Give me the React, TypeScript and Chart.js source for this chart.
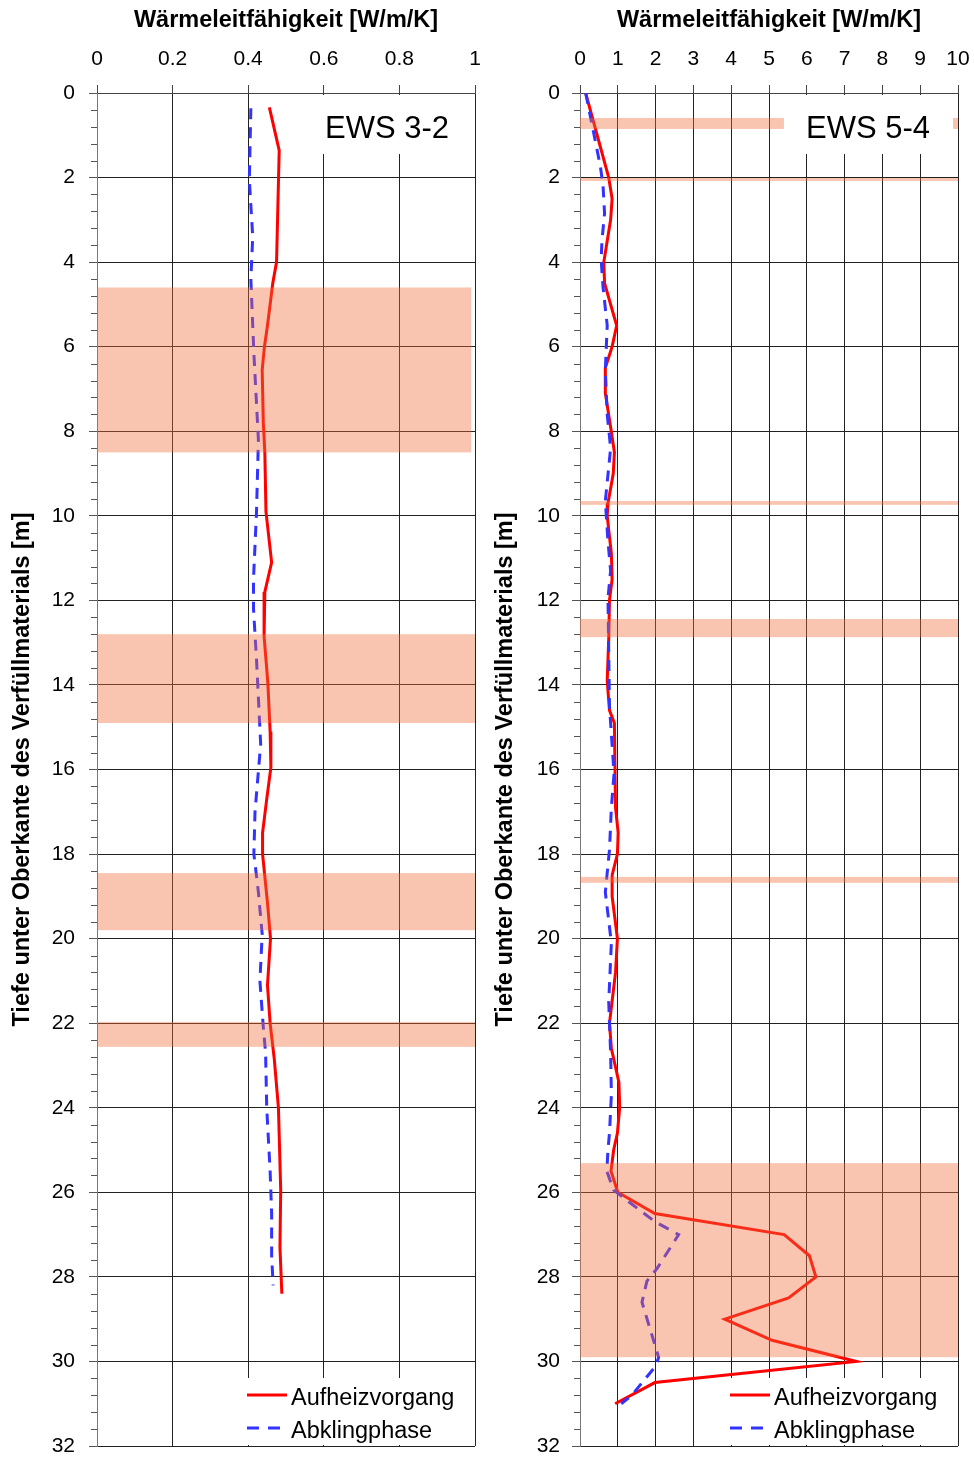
import React, { useEffect, useRef } from 'react';
import { Chart, registerables } from 'chart.js';

Chart.register(...registerables);
Chart.defaults.font.family = '"Liberation Sans", Arial, sans-serif';
Chart.defaults.color = '#000';

// ---------- shared ----------
const depthTickLabels = ['0', '2', '4', '6', '8', '10', '12', '14', '16', '18', '20', '22', '24', '26', '28', '30', '32'];
const xTitle = 'Wärmeleitfähigkeit [W/m/K]';
const yTitle = 'Tiefe unter Oberkante des Verfüllmaterials [m]';
const seriesNames = ['Aufheizvorgang', 'Abklingphase'];

// ---------- EWS 3-2 ----------
const ews32TickLabels = ['0', '0.2', '0.4', '0.6', '0.8', '1'];
const ews32HeatDepth = [0.34, 1.36, 4.0, 4.5, 5.5, 6.0, 6.55, 7.8, 8.5, 9.9, 11.1, 11.8, 12.85, 13.95, 15.1, 15.95, 16.7, 17.5, 18.0, 19.15, 20.0, 21.1, 22.0, 22.85, 24.0, 25.95, 27.3, 28.4];
const ews32HeatValue = [0.456, 0.482, 0.475, 0.465, 0.451, 0.443, 0.437, 0.44, 0.444, 0.447, 0.462, 0.444, 0.442, 0.452, 0.458, 0.46, 0.449, 0.438, 0.438, 0.451, 0.459, 0.451, 0.458, 0.469, 0.48, 0.486, 0.484, 0.489];
const ews32CoolDepth = [0.36, 2.06, 3.4, 4.4, 6.15, 8.2, 9.9, 11.5, 12.2, 13.4, 15.4, 17.0, 18.0, 18.9, 19.9, 21.0, 22.1, 22.7, 24.0, 25.5, 26.5, 27.5, 28.2];
const ews32CoolValue = [0.407, 0.403, 0.412, 0.407, 0.415, 0.427, 0.422, 0.414, 0.414, 0.422, 0.433, 0.418, 0.415, 0.427, 0.437, 0.431, 0.44, 0.446, 0.449, 0.458, 0.462, 0.462, 0.466];
const ews32BandStart = [4.6, 12.8, 18.45, 21.97];
const ews32BandEnd = [8.5, 14.9, 19.8, 22.56];
const ews32BandXMax = [0.99, 1, 1, 1];

// ---------- EWS 5-4 ----------
const ews54TickLabels = ['0', '1', '2', '3', '4', '5', '6', '7', '8', '9', '10'];
const ews54HeatDepth = [0.0, 2.0, 2.5, 3.0, 4.0, 4.5, 5.5, 6.0, 6.5, 7.1, 7.9, 8.5, 9.0, 9.7, 10.0, 10.9, 11.5, 12.0, 12.9, 13.9, 14.6, 14.9, 16.9, 17.5, 18.0, 18.5, 19.0, 20.0, 20.8, 22.0, 22.6, 23.4, 24.0, 24.6, 25.0, 25.5, 26.0, 26.5, 27.0, 27.5, 28.0, 28.5, 29.0, 29.5, 30.0, 30.5, 31.0];
const ews54HeatValue = [0.15, 0.76, 0.85, 0.81, 0.63, 0.65, 0.97, 0.85, 0.67, 0.67, 0.81, 0.91, 0.88, 0.74, 0.72, 0.83, 0.85, 0.78, 0.76, 0.72, 0.78, 0.91, 0.94, 1.01, 0.99, 0.85, 0.85, 0.99, 0.94, 0.78, 0.83, 1.03, 1.05, 0.99, 0.89, 0.82, 1.0, 1.98, 5.4, 6.07, 6.24, 5.52, 3.83, 5.08, 7.31, 1.98, 0.93];
const ews54CoolDepth = [0.0, 1.74, 2.2, 2.85, 3.5, 3.95, 4.6, 5.5, 6.55, 7.6, 8.4, 8.85, 9.65, 10.6, 11.3, 11.95, 13.2, 14.5, 16.1, 16.9, 17.9, 18.9, 20.1, 21.5, 22.7, 23.7, 24.6, 25.0, 25.5, 25.95, 26.7, 27.0, 27.8, 28.1, 28.6, 29.9, 30.1, 30.8, 31.0];
const ews54CoolValue = [0.15, 0.54, 0.61, 0.65, 0.58, 0.56, 0.61, 0.72, 0.67, 0.72, 0.81, 0.76, 0.67, 0.74, 0.81, 0.74, 0.76, 0.78, 0.9, 0.83, 0.78, 0.67, 0.83, 0.76, 0.81, 0.83, 0.78, 0.74, 0.71, 0.89, 1.99, 2.61, 2.04, 1.77, 1.64, 2.08, 2.01, 1.37, 1.09];
const ews54BandStart = [0.59, 2.01, 9.65, 12.44, 18.54, 25.31];
const ews54BandEnd = [0.85, 2.08, 9.74, 12.87, 18.68, 29.9];
const ews54BandXMax = [10, 10, 10, 10, 10, 10];

const FONT = '"Liberation Sans", Arial, sans-serif';

const overlayPlugin = {
  id: 'overlay',
  afterDatasetsDraw(chart: any, _args: any, opts: any) {
    const { ctx, chartArea: a, scales } = chart;
    const x = scales.x;
    const y = scales.y;
    ctx.save();
    // minor ticks on depth axis
    ctx.strokeStyle = '#555';
    ctx.lineWidth = 1;
    for (let i = 1; i < 80; i++) {
      if (i % 5 === 0) continue;
      const py = Math.round(y.getPixelForValue(i * 0.4)) + 0.5;
      ctx.beginPath();
      ctx.moveTo(a.left - 6, py);
      ctx.lineTo(a.left, py);
      ctx.stroke();
    }
    // bands
    ctx.save();
    ctx.beginPath();
    ctx.rect(a.left, a.top, a.right - a.left, a.bottom - a.top);
    ctx.clip();
    ctx.fillStyle = 'rgba(240,110,60,0.4)';
    opts.bandStart.forEach((s: number, i: number) => {
      const y0 = y.getPixelForValue(s);
      const y1 = y.getPixelForValue(opts.bandEnd[i]);
      const x0 = x.getPixelForValue(0);
      const x1 = x.getPixelForValue(opts.bandXMax[i]);
      ctx.fillRect(x0, y0, x1 - x0, y1 - y0);
    });
    ctx.restore();

    // name label box
    ctx.font = `31px ${FONT}`;
    const tw = ctx.measureText(opts.name).width;
    const tr = a.right - opts.nameRight;
    const tl = tr - tw;
    ctx.fillStyle = '#fff';
    ctx.fillRect(tl - 22, a.top + 2, tw + 45, 59);
    ctx.fillStyle = '#000';
    ctx.textAlign = 'left';
    ctx.textBaseline = 'alphabetic';
    ctx.fillText(opts.name, tl, a.top + 45);

    // legend
    ctx.fillStyle = '#fff';
    ctx.fillRect(a.right - 232, a.bottom - 68, 231, 67);
    ctx.lineWidth = 3;
    ctx.strokeStyle = '#ff0000';
    ctx.setLineDash([]);
    ctx.beginPath();
    ctx.moveTo(a.right - 228, a.bottom - 51);
    ctx.lineTo(a.right - 188, a.bottom - 51);
    ctx.stroke();
    ctx.strokeStyle = '#3333ff';
    ctx.setLineDash([12, 9]);
    ctx.beginPath();
    ctx.moveTo(a.right - 228, a.bottom - 18);
    ctx.lineTo(a.right - 188, a.bottom - 18);
    ctx.stroke();
    ctx.setLineDash([]);
    ctx.font = `23.5px ${FONT}`;
    ctx.fillStyle = '#000';
    ctx.fillText(seriesNames[0], a.right - 184, a.bottom - 41);
    ctx.fillText(seriesNames[1], a.right - 184, a.bottom - 8);
    ctx.restore();
  },
};

function makeConfig(p: any): any {
  return {
    type: 'scatter',
    data: {
      datasets: [
        {
          label: seriesNames[0],
          data: p.heatDepth.map((d: number, i: number) => ({ x: p.heatValue[i], y: d })),
          showLine: true,
          borderColor: '#ff0000',
          borderWidth: 3,
          pointRadius: 0,
          tension: 0,
          order: 1,
        },
        {
          label: seriesNames[1],
          data: p.coolDepth.map((d: number, i: number) => ({ x: p.coolValue[i], y: d })),
          showLine: true,
          borderColor: '#3333ff',
          borderWidth: 3,
          borderDash: [11, 8],
          pointRadius: 0,
          tension: 0,
          order: 0,
        },
      ],
    },
    options: {
      animation: false,
      responsive: false,
      maintainAspectRatio: false,
      layout: { padding: { left: 0, top: 0, right: p.rightPad, bottom: 11 } },
      plugins: {
        legend: { display: false },
        tooltip: { enabled: false },
        overlay: {
          bandStart: p.bandStart,
          bandEnd: p.bandEnd,
          bandXMax: p.bandXMax,
          name: p.name,
          nameRight: p.nameRight,
        },
      },
      scales: {
        x: {
          type: 'linear',
          position: 'top',
          min: 0,
          max: p.xMax,
          ticks: {
            stepSize: p.xStep,
            autoSkip: false,
            maxRotation: 0,
            padding: 13,
            color: '#000',
            font: { size: 21, family: FONT },
            callback: (v: any) => p.tickLabels[Math.round(v / p.xStep)],
          },
          grid: { color: '#222', lineWidth: 1, tickLength: 8, tickColor: '#444' },
          border: { color: '#444', width: 1 },
          title: {
            display: true,
            text: xTitle,
            color: '#000',
            font: { size: 23.5, weight: 'bold', family: FONT },
            padding: { top: 6, bottom: 0 },
          },
          afterFit: (s: any) => {
            s.height = 93;
            s.paddingLeft = 0;
            s.paddingRight = 0;
          },
        },
        y: {
          type: 'linear',
          reverse: true,
          min: 0,
          max: 32,
          ticks: {
            stepSize: 2,
            autoSkip: false,
            padding: p.yPad,
            color: '#000',
            font: { size: 21, family: FONT },
            callback: (v: any) => depthTickLabels[Math.round(v / 2)],
          },
          grid: { color: '#222', lineWidth: 1, tickLength: 8, tickColor: '#555' },
          border: { color: '#777', width: 1 },
          title: {
            display: true,
            text: yTitle,
            color: '#000',
            font: { size: 23.5, weight: 'bold', family: FONT },
            padding: { top: p.yTitlePad, bottom: 0 },
          },
          afterFit: (s: any) => {
            s.width = p.yWidth;
            s.paddingTop = 0;
            s.paddingBottom = 0;
          },
        },
      },
    },
    plugins: [overlayPlugin],
  };
}

const leftParams = {
  name: 'EWS 3-2',
  xMax: 1,
  xStep: 0.2,
  tickLabels: ews32TickLabels,
  heatDepth: ews32HeatDepth,
  heatValue: ews32HeatValue,
  coolDepth: ews32CoolDepth,
  coolValue: ews32CoolValue,
  bandStart: ews32BandStart,
  bandEnd: ews32BandEnd,
  bandXMax: ews32BandXMax,
  yWidth: 97,
  rightPad: 12,
  yPad: 14,
  yTitlePad: 8,
  nameRight: 26,
};

const rightParams = {
  name: 'EWS 5-4',
  xMax: 10,
  xStep: 1,
  tickLabels: ews54TickLabels,
  heatDepth: ews54HeatDepth,
  heatValue: ews54HeatValue,
  coolDepth: ews54CoolDepth,
  coolValue: ews54CoolValue,
  bandStart: ews54BandStart,
  bandEnd: ews54BandEnd,
  bandXMax: ews54BandXMax,
  yWidth: 93,
  rightPad: 16,
  yPad: 12,
  yTitlePad: 4,
  nameRight: 28,
};

function Panel({ params, left }: { params: any; left: number }) {
  const ref = useRef<HTMLCanvasElement | null>(null);
  useEffect(() => {
    if (!ref.current) return;
    const chart = new Chart(ref.current, makeConfig(params));
    return () => chart.destroy();
  }, [params]);
  return (
    <canvas
      ref={ref}
      width={487}
      height={1457}
      style={{ position: 'absolute', left, top: 0, width: 487, height: 1457 }}
    />
  );
}

export default function App() {
  return (
    <div style={{ position: 'absolute', left: 0, top: 0, width: 974, height: 1457, background: '#fff' }}>
      <Panel params={leftParams} left={0} />
      <Panel params={rightParams} left={487} />
    </div>
  );
}
